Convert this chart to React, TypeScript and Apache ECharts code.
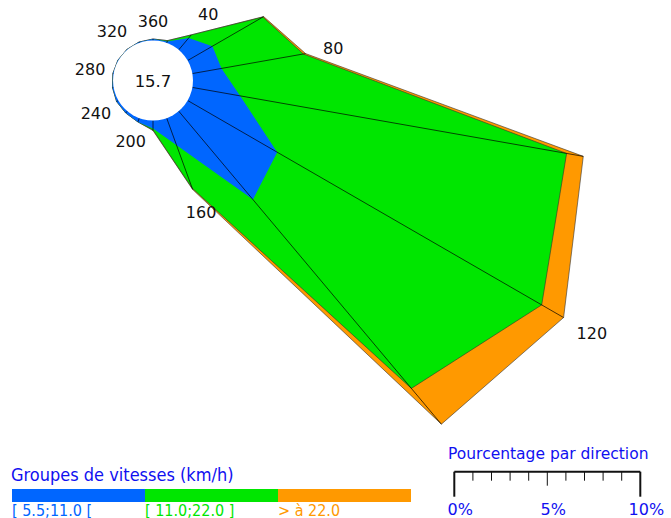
import React, { useEffect, useRef } from "react";
import * as echarts from "echarts";

// ---- data ----
const DIRECTIONS = [0, 20, 40, 60, 80, 100, 120, 140, 160, 180, 200, 220, 240, 260, 280, 300, 320, 340];
const LOW_SPEED = [0.08, 0.08, 0.83, 1.54, 1.59, 2.61, 5.56, 6.21, 1.56, 0.43, 0.22, 0.13, 0.11, 0.06, 0.04, 0.03, 0.03, 0.05];
const MID_SPEED = [0, 0.05, 0.22, 3.13, 4.47, 17.82, 16.42, 13.25, 2.45, 0.08, 0, 0, 0, 0, 0, 0, 0, 0];
const HIGH_SPEED = [0, 0, 0, 0.05, 0.12, 0.91, 1.36, 2.51, 0.08, 0.03, 0, 0, 0, 0, 0, 0, 0, 0];
const CALM = 15.7;
const LABEL_DIRECTIONS = [0, 40, 80, 120, 160, 200, 240, 280, 320];
const LABEL_TEXTS = ["360", "40", "80", "120", "160", "200", "240", "280", "320"];
const CLASS_NAMES = ["[ 5.5;11.0 [", "[ 11.0;22.0 ]", "> à 22.0"];
const CLASS_COLORS = ["#0066ff", "#00e600", "#ff9900"];
const LEGEND_TITLE = "Groupes de vitesses (km/h)";
const SCALE_TITLE = "Pourcentage par direction";
const SCALE_TICKS = [0, 1, 2, 3, 4, 5, 6, 7, 8, 9, 10];
const SCALE_LABEL_VALUES = [0, 5, 10];
const SCALE_LABELS = ["0%", "5%", "10%"];

// ---- layout ----
const W = 671;
const H = 518;
const PX_PER_PCT = 18.6;
const CALM_RADIUS_PX = 40;
const R_MAX = 24;
const R_MIN = -CALM_RADIUS_PX / PX_PER_PCT;
const CENTER = [153, 80.5];
const FONT = "DejaVu Sans";
const LABEL_SIZE = 16;

function buildOption() {
  const cum1 = LOW_SPEED.slice();
  const cum2 = cum1.map((v, i) => v + MID_SPEED[i]);
  const cum3 = cum2.map((v, i) => v + HIGH_SPEED[i]);

  const renderItem = (_params: any, api: any) => {
    const pts = (arr: number[]) => DIRECTIONS.map((d, i) => api.coord([arr[i], d]));
    const c = api.coord([R_MIN, 0]);
    const e = api.coord([0, 0]);
    const calmR = Math.hypot(e[0] - c[0], e[1] - c[1]);
    const children: any[] = [];
    children.push({
      type: "polygon",
      shape: { points: pts(cum3) },
      style: { fill: CLASS_COLORS[2], stroke: "#333", lineWidth: 0.6 },
    });
    children.push({
      type: "polygon",
      shape: { points: pts(cum2) },
      style: { fill: CLASS_COLORS[1], stroke: "#333", lineWidth: 0.6 },
    });
    children.push({
      type: "polygon",
      shape: { points: pts(cum1) },
      style: { fill: CLASS_COLORS[0] },
    });
    DIRECTIONS.forEach((d, i) => {
      const a = api.coord([0, d]);
      const b = api.coord([cum3[i], d]);
      children.push({
        type: "line",
        shape: { x1: a[0], y1: a[1], x2: b[0], y2: b[1] },
        style: { stroke: "#000", lineWidth: 0.7 },
      });
    });
    children.push({
      type: "circle",
      shape: { cx: c[0], cy: c[1], r: calmR },
      style: { fill: "#fff" },
    });
    children.push({
      type: "text",
      x: c[0],
      y: c[1] + 1,
      style: {
        text: String(CALM),
        fill: "#111",
        font: `16.5px ${FONT}`,
        align: "center",
        verticalAlign: "middle",
      },
    });
    LABEL_DIRECTIONS.forEach((d, k) => {
      const i = DIRECTIONS.indexOf(d);
      const txt = LABEL_TEXTS[k];
      const rad = (d * Math.PI) / 180;
      const halfW = txt.length * LABEL_SIZE * 0.318;
      const halfH = 6;
      const proj = Math.abs(Math.sin(rad)) * halfW + Math.abs(Math.cos(rad)) * halfH;
      const gap = 12 + 5 * Math.sin(rad);
      const totPx = CALM_RADIUS_PX + cum3[i] * PX_PER_PCT;
      const lblPx = totPx + gap + proj;
      const p = api.coord([(lblPx - CALM_RADIUS_PX) / PX_PER_PCT, d]);
      children.push({
        type: "text",
        x: p[0],
        y: p[1],
        style: {
          text: txt,
          fill: "#111",
          font: `${LABEL_SIZE}px ${FONT}`,
          align: "center",
          verticalAlign: "middle",
        },
      });
    });
    return { type: "group", children };
  };

  // legend + scale bar graphics
  const graphics: any[] = [];
  graphics.push({
    type: "text",
    style: {
      text: LEGEND_TITLE,
      x: 11,
      y: 474,
      fill: "#1010f0",
      font: `18px "DejaVu Sans Condensed", ${FONT}`,
      textAlign: "left",
      textVerticalAlign: "middle",
      align: "left",
      verticalAlign: "middle",
    },
  });
  const segW = 133;
  CLASS_NAMES.forEach((name, i) => {
    graphics.push({
      type: "rect",
      shape: { x: 12 + i * segW, y: 489, width: segW, height: 13 },
      style: { fill: CLASS_COLORS[i] },
    });
    graphics.push({
      type: "text",
      style: {
        text: name,
        x: 12 + i * segW,
        y: 510,
        fill: CLASS_COLORS[i],
        font: `16px "DejaVu Sans Condensed", ${FONT}`,
        textAlign: "left",
        textVerticalAlign: "middle",
        align: "left",
        verticalAlign: "middle",
      },
    });
  });
  graphics.push({
    type: "text",
    style: {
      text: SCALE_TITLE,
      x: 448,
      y: 453.5,
      fill: "#1010f0",
      font: `15.5px ${FONT}`,
      textAlign: "left",
      textVerticalAlign: "middle",
      align: "left",
      verticalAlign: "middle",
    },
  });
  const sx0 = 454.3;
  const sy = 471.7;
  graphics.push({
    type: "line",
    shape: { x1: sx0, y1: sy, x2: sx0 + 10 * PX_PER_PCT, y2: sy },
    style: { stroke: "#111", lineWidth: 2 },
  });
  SCALE_TICKS.forEach((t) => {
    const x = sx0 + t * PX_PER_PCT;
    const len = t === 0 || t === 10 ? 25 : t === 5 ? 14 : 9;
    graphics.push({
      type: "line",
      shape: { x1: x, y1: sy, x2: x, y2: sy + len },
      style: { stroke: "#111", lineWidth: t === 0 || t === 10 ? 2 : 1 },
    });
  });
  SCALE_LABEL_VALUES.forEach((v, i) => {
    graphics.push({
      type: "text",
      style: {
        text: SCALE_LABELS[i],
        x: sx0 + v * PX_PER_PCT + 6,
        y: 509.5,
        fill: "#1010f0",
        font: `16px ${FONT}`,
        textAlign: "center",
        textVerticalAlign: "middle",
        align: "center",
        verticalAlign: "middle",
      },
    });
  });

  return {
    animation: false,
    polar: { center: CENTER, radius: CALM_RADIUS_PX + R_MAX * PX_PER_PCT },
    angleAxis: { type: "value", min: 0, max: 360, startAngle: 90, clockwise: true, show: false },
    radiusAxis: { type: "value", min: R_MIN, max: R_MAX, show: false },
    series: [
      {
        type: "custom",
        coordinateSystem: "polar",
        data: [[0, 0]],
        renderItem,
        silent: true,
      },
    ],
    graphic: { elements: graphics },
  };
}

export default function App() {
  const ref = useRef<HTMLDivElement>(null);
  useEffect(() => {
    if (!ref.current) return;
    const chart = echarts.init(ref.current, null, { renderer: "svg" });
    chart.setOption(buildOption());
    return () => chart.dispose();
  }, []);
  return (
    <div
      ref={ref}
      style={{ position: "fixed", left: 0, top: 0, width: W, height: H, background: "#fff" }}
    />
  );
}
